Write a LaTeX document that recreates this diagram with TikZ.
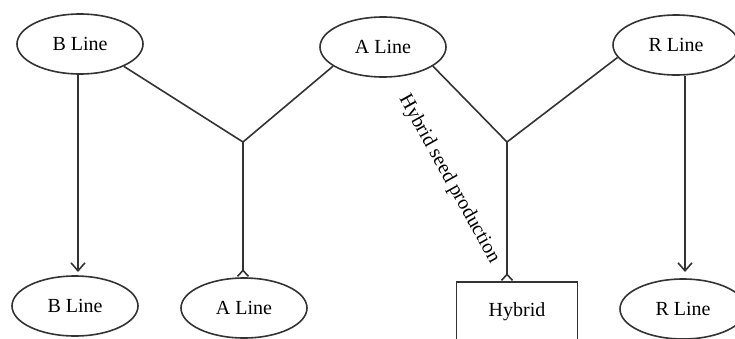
\documentclass[tikz,border=0pt]{standalone}
\usepackage{fontspec}
\setmainfont{Liberation Serif}
\usetikzlibrary{arrows.meta,shapes.geometric}

\tikzset{
    lineoval/.style={draw=black!80, line width=0.8pt, ellipse, minimum width=63pt, minimum height=30pt, inner sep=0pt, font=\normalsize},
    hybridbox/.style={draw=black!80, line width=0.8pt, rectangle, minimum width=60.5pt, minimum height=30pt, inner sep=0pt},
    link/.style={draw=black!80, line width=0.8pt},
    downarrow/.style={link, -{Straight Barb[length=4pt,width=7pt]}},
    caretend/.style={link, -{Straight Barb[reversed,length=3pt,width=5.5pt]}}
}

\begin{document}
\begin{tikzpicture}[x=0.5pt,y=-0.5pt]
        % picture frame, 735 x 338
        \useasboundingbox (0,0) rectangle (735,338);
        \clip (0,0) rectangle (735,338);

        % parent lines at the top
        \node[lineoval] (btop) at (80,44) {B Line};
        \node[lineoval] (atop) at (383,47) {A Line};
        \node[lineoval] (rtop) at (676,45) {R Line};

        % offspring at the bottom
        \node[lineoval] (bbot) at (75,306) {B Line};
        \node[lineoval] (abot) at (244,308) {A Line};
        \node[hybridbox] (hyb) at (517,312) {Hybrid};
        \node[lineoval] (rbot) at (683,309) {R Line};

        % crossing points
        \coordinate (jl) at (243,142);
        \coordinate (jr) at (507,142);
        \coordinate (bx) at (78,272);
        \coordinate (rx) at (685,272);

        % B x A gives the A line
        \draw[link] (btop.333) -- (jl);
        \draw[link] (atop.201) -- (jl);
        \draw[caretend] (jl) -- (jl |- abot.north);

        % A x R gives the hybrid
        \draw[link] (atop.339) -- (jr);
        \draw[link] (rtop.192) -- (jr);
        \draw[caretend] (jr) -- (jr |- hyb.north);

        % maintenance of B and R
        \draw[downarrow] (btop.south -| bx) -- (bx);
        \draw[downarrow] (rtop.south -| rx) -- (rx);

        % label along the hybrid branch
        \node[rotate=-61] (seedlbl) at (449,179) {Hybrid seed production};
\end{tikzpicture}
\end{document}
